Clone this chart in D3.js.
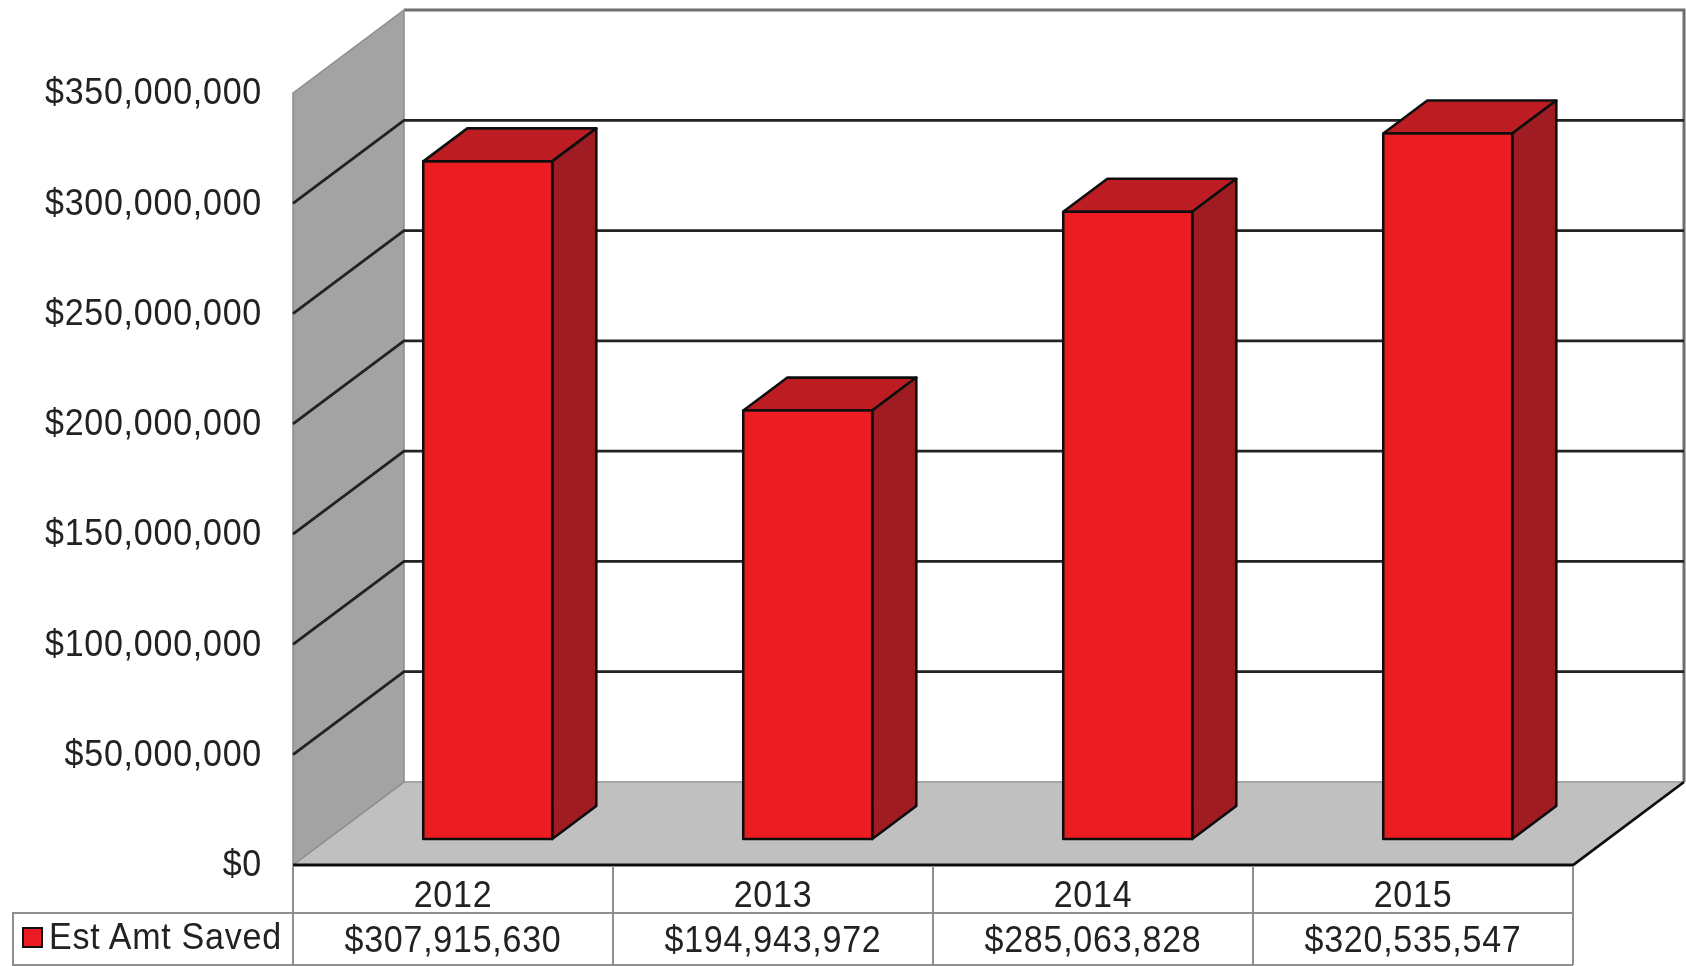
<!DOCTYPE html>
<html>
<head>
<meta charset="utf-8">
<script src="https://cdnjs.cloudflare.com/ajax/libs/d3/7.8.5/d3.min.js"></script>
<style>
  html, body { margin: 0; padding: 0; background: #fff; overflow: hidden; }
  text {
    font-family: "Liberation Sans", Arial, sans-serif; font-size: 37px; letter-spacing: 0.8px; fill: #222;
    transform-box: fill-box; transform-origin: center; transform: scaleX(0.92);
  }
  .tick text { transform-origin: right center; }
  .legend-label { transform-origin: left center; }
</style>
</head>
<body>
<div id="chart"></div>
<script>
const years = ["2012", "2013", "2014", "2015"];
const amounts = [307915630, 194943972, 285063828, 320535547];
const seriesName = "Est Amt Saved";

const width = 1686, height = 966;
const left = 293, right = 1573, floorY = 865, topY = 93;
const depthX = 111, depthY = 83;
const barFront = 0.313, barBack = 0.71, barDrop = 1.5;
const rowLine = 913, tableBottom = 965, legendLeft = 13;

const x = d3.scaleBand().domain(years).range([left, right]).paddingInner(0.597).paddingOuter(0.2985);
const y = d3.scaleLinear().domain([0, 350000000]).range([floorY, topY]);
const money = d3.format("$,");

// project a point into the 3d box, d = 0 at the front, 1 at the back wall
const px = (vx, d) => vx + depthX * d;
const py = (vy, d) => vy - depthY * d;
const poly = pts => pts.map(p => p.join(",")).join(" ");

const svg = d3.select("#chart").append("svg")
  .attr("width", width)
  .attr("height", height);

const defs = svg.append("defs");
defs.append("filter").attr("id", "soft")
  .append("feGaussianBlur").attr("stdDeviation", 0.55);
defs.append("filter").attr("id", "softText")
  .append("feGaussianBlur").attr("stdDeviation", 0.4);

const g = svg.append("g").attr("filter", "url(#soft)");

// back wall
g.append("polygon")
  .attr("points", poly([[px(left, 1), py(topY, 1)], [px(right, 1), py(topY, 1)], [px(right, 1), py(floorY, 1)], [px(left, 1), py(floorY, 1)]]))
  .attr("fill", "#fff");
g.append("path")
  .attr("d", `M${px(left, 1)},${py(topY, 1)}H${px(right, 1)}V${py(floorY, 1)}`)
  .attr("fill", "none").attr("stroke", "#6e6e6e").attr("stroke-width", 3);

// floor
g.append("polygon")
  .attr("points", poly([[left, floorY], [right, floorY], [px(right, 1), py(floorY, 1)], [px(left, 1), py(floorY, 1)]]))
  .attr("fill", "#c0c0c0");
g.append("line")
  .attr("x1", px(left, 1)).attr("x2", px(right, 1))
  .attr("y1", py(floorY, 1)).attr("y2", py(floorY, 1))
  .attr("stroke", "#a6a6a6").attr("stroke-width", 2);

// left wall
g.append("polygon")
  .attr("points", poly([[left, topY], [px(left, 1), py(topY, 1)], [px(left, 1), py(floorY, 1)], [left, floorY]]))
  .attr("fill", "#a3a3a3")
  .attr("stroke", "#8c8c8c").attr("stroke-width", 1.5);

// gridlines, wall part and back part
const gridTicks = y.ticks(7).filter(t => t > 0 && t < 350000000);
g.selectAll(".grid").data(gridTicks).enter().append("path")
  .attr("class", "grid")
  .attr("d", t => `M${left},${y(t)}L${px(left, 1)},${py(y(t), 1)}H${px(right, 1)}`)
  .attr("fill", "none").attr("stroke", "#222").attr("stroke-width", 2.8);

// front edge of the floor
g.append("path")
  .attr("d", `M${left},${floorY}H${right}L${px(right, 1)},${py(floorY, 1)}`)
  .attr("fill", "none").attr("stroke", "#111").attr("stroke-width", 2.8);

// bars
const bars = g.selectAll(".bar").data(years.map((yr, i) => ({ yr, v: amounts[i] }))).enter()
  .append("g").attr("class", "bar")
  .attr("stroke", "#111").attr("stroke-width", 2.6).attr("stroke-linejoin", "round");

const x0 = d => x(d.yr), x1 = d => x(d.yr) + x.bandwidth();
const barTop = d => y(d.v) + barDrop;

bars.append("polygon").attr("fill", "#bd1e24")
  .attr("points", d => poly([
    [px(x0(d), barFront), py(barTop(d), barFront)], [px(x1(d), barFront), py(barTop(d), barFront)],
    [px(x1(d), barBack), py(barTop(d), barBack)], [px(x0(d), barBack), py(barTop(d), barBack)]]));
bars.append("polygon").attr("fill", "#9e1b20")
  .attr("points", d => poly([
    [px(x1(d), barFront), py(barTop(d), barFront)], [px(x1(d), barBack), py(barTop(d), barBack)],
    [px(x1(d), barBack), py(y(0), barBack)], [px(x1(d), barFront), py(y(0), barFront)]]));
bars.append("polygon").attr("fill", "#ed1c24")
  .attr("points", d => poly([
    [px(x0(d), barFront), py(barTop(d), barFront)], [px(x1(d), barFront), py(barTop(d), barFront)],
    [px(x1(d), barFront), py(y(0), barFront)], [px(x0(d), barFront), py(y(0), barFront)]]));

// y axis labels
const yAxis = svg.append("g")
  .attr("transform", `translate(262,-1)`)
  .attr("filter", "url(#softText)")
  .call(d3.axisLeft(y).ticks(7).tickSize(0).tickPadding(0).tickFormat(money));
yAxis.select(".domain").remove();
yAxis.selectAll("text").attr("font-size", null).attr("fill", null);
yAxis.attr("font-family", null).attr("font-size", null);

// data table
const table = svg.append("g").attr("filter", "url(#soft)")
  .attr("stroke", "#8f8f8f").attr("stroke-width", 2).attr("fill", "none");
const colEdges = years.map(yr => x(yr) - x.step() * x.paddingOuter()).concat([right]);
table.selectAll(".col").data(colEdges).enter().append("line")
  .attr("x1", d => d).attr("x2", d => d)
  .attr("y1", floorY + 1).attr("y2", tableBottom);
table.append("path")
  .attr("d", `M${right},${rowLine}H${legendLeft}V${tableBottom}H${right}`);

const labels = svg.append("g").attr("filter", "url(#softText)");
labels.selectAll(".year").data(years).enter().append("text")
  .attr("x", d => x(d) + x.bandwidth() / 2).attr("y", 907)
  .attr("text-anchor", "middle").text(d => d);
labels.selectAll(".amount").data(amounts).enter().append("text")
  .attr("x", (d, i) => x(years[i]) + x.bandwidth() / 2).attr("y", 952)
  .attr("text-anchor", "middle").text(d => money(d));

// legend cell
svg.append("rect")
  .attr("x", 23).attr("y", 928).attr("width", 19).attr("height", 19)
  .attr("fill", "#ed1c24").attr("stroke", "#111").attr("stroke-width", 2);
labels.append("text").attr("class", "legend-label").attr("x", 49).attr("y", 949).text(seriesName);
</script>
</body>
</html>
